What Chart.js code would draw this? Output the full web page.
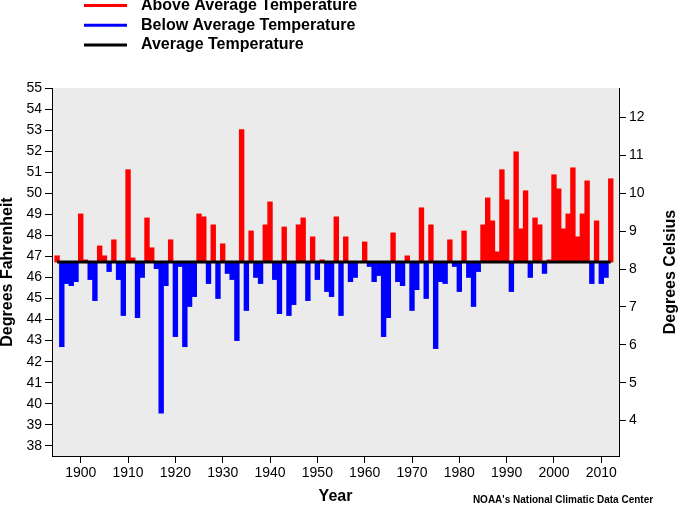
<!DOCTYPE html>
<html>
<head>
<meta charset="utf-8">
<script src="https://cdn.jsdelivr.net/npm/chart.js@4"></script>
<style>
  html, body { margin: 0; padding: 0; background: #fff; }
  canvas { display: block; }
</style>
</head>
<body>
<canvas id="tempChart" width="680" height="505"></canvas>
<script>
// annual mean temperature (deg F), 1895 - 2012
var firstYear = 1895;
var temps = [
  47.03, 42.71, 45.71, 45.61, 45.80, 49.02, 46.84, 45.90, 44.90, 47.50,
  47.03, 46.28, 47.79, 45.90, 44.19, 51.12, 46.93, 44.09, 46.00, 48.83,
  47.41, 46.42, 39.55, 45.61, 47.79, 43.19, 46.52, 42.71, 44.62, 45.09,
  49.02, 48.88, 45.71, 48.50, 45.00, 47.60, 46.19, 45.90, 43.00, 53.02,
  44.43, 48.21, 46.00, 45.71, 48.50, 49.59, 45.90, 44.28, 48.40, 44.19,
  44.71, 48.50, 48.83, 44.90, 47.93, 45.90, 46.84, 45.33, 45.09, 48.88,
  44.19, 47.93, 45.80, 46.00, 46.73, 47.69, 46.52, 45.80, 46.09, 43.19,
  44.09, 48.12, 45.80, 45.61, 47.03, 44.43, 45.42, 49.31, 45.00, 48.50,
  42.62, 45.80, 45.71, 47.79, 46.52, 45.33, 48.21, 46.00, 44.62, 46.28,
  48.50, 49.78, 48.69, 47.22, 51.12, 49.69, 45.33, 51.97, 48.31, 50.12,
  46.00, 48.83, 48.50, 46.19, 46.84, 50.88, 50.21, 48.31, 49.02, 51.21,
  47.93, 49.02, 50.59, 45.71, 48.69, 45.71, 46.00, 50.69
];
var years = [];
for (var i = 0; i < temps.length; i++) {
    years.push(firstYear + i);
}
var averageTemp = 46.73;

var yearTicks = [1900, 1910, 1920, 1930, 1940, 1950, 1960, 1970, 1980, 1990, 2000, 2010];
var fahrenheitTicks = [38, 39, 40, 41, 42, 43, 44, 45, 46, 47, 48, 49, 50, 51, 52, 53, 54, 55];
var celsiusTicks = [4, 5, 6, 7, 8, 9, 10, 11, 12];
var legendNames = ["Above Average Temperature", "Below Average Temperature", "Average Temperature"];
var creditText = "NOAA's National Climatic Data Center";

var fMin = 37.52, fMax = 55;
var xMin = 1893.93, xMax = 2013.74;
var fontName = "'Liberation Sans', Arial, Helvetica, sans-serif";

function toCelsius(f) {
    return (f - 32) * 5 / 9;
}

// split into above / below average floating bars
var aboveData = [];
var belowData = [];
years.forEach((y, i) => {
    var t = temps[i];
    if (t >= averageTemp) {
        aboveData.push({ x: y, y: [averageTemp, t] });
    } else {
        belowData.push({ x: y, y: [averageTemp, t] });
    }
})

//grey plot area
var plotBackground = {
    id: 'plotBackground',
    beforeDraw: function (chart) {
        var a = chart.chartArea;
        var ctx = chart.ctx;
        ctx.save();
        ctx.fillStyle = '#ebebeb';
        ctx.fillRect(a.left, a.top, a.right - a.left, a.bottom - a.top);
        ctx.restore();
    }
};

//legend, right axis title and credit line
var extras = {
    id: 'extras',
    afterDraw: function (chart) {
        var ctx = chart.ctx;
        ctx.save();
        var rows = [5.5, 25.3, 45];
        chart.data.datasets.forEach((ds, i) => {
            ctx.strokeStyle = ds.borderColor || ds.backgroundColor;
            ctx.lineWidth = 3;
            ctx.beginPath();
            ctx.moveTo(84, rows[i]);
            ctx.lineTo(127, rows[i]);
            ctx.stroke();
            ctx.fillStyle = '#000';
            ctx.font = 'bold 16px ' + fontName;
            ctx.textAlign = 'left';
            ctx.textBaseline = 'middle';
            ctx.fillText(ds.label, 141, rows[i]);
        })

        var r = chart.scales.y2;
        ctx.translate(r.right - 9, (chart.chartArea.top + chart.chartArea.bottom) / 2);
        ctx.rotate(-Math.PI / 2);
        ctx.textAlign = 'center';
        ctx.textBaseline = 'middle';
        ctx.font = 'bold 16px ' + fontName;
        ctx.fillText('Degrees Celsius', 0, 0);
        ctx.restore();

        ctx.save();
        ctx.fillStyle = '#000';
        ctx.font = 'bold 10px ' + fontName;
        ctx.textAlign = 'center';
        ctx.textBaseline = 'middle';
        ctx.fillText(creditText, 563, 500);
        ctx.restore();
    }
};

var tickFont = { family: fontName, size: 14 };
var titleFont = { family: fontName, size: 16, weight: 'bold', lineHeight: 1 };

var myChart = new Chart(document.getElementById('tempChart'), {
    type: 'bar',
    data: {
        datasets: [{
            label: legendNames[0],
            data: aboveData,
            backgroundColor: '#ff0000',
            borderColor: '#ff0000',
            borderWidth: 0,
            grouped: false,
            barPercentage: 1,
            categoryPercentage: 1,
            yAxisID: 'y',
            order: 1
        }, {
            label: legendNames[1],
            data: belowData,
            backgroundColor: '#0000ff',
            borderColor: '#0000ff',
            borderWidth: 0,
            grouped: false,
            barPercentage: 1,
            categoryPercentage: 1,
            yAxisID: 'y',
            order: 1
        }, {
            type: 'line',
            label: legendNames[2],
            data: [{ x: years[0], y: averageTemp }, { x: years[years.length - 1], y: averageTemp }],
            borderColor: '#000000',
            borderWidth: 3,
            pointRadius: 0,
            yAxisID: 'y',
            order: 0
        }]
    },
    options: {
        responsive: false,
        animation: false,
        devicePixelRatio: 1,
        layout: { padding: { top: 88, left: 0, right: 0, bottom: 0 } },
        plugins: {
            legend: { display: false },
            tooltip: { enabled: false }
        },
        scales: {
            x: {
                type: 'linear',
                min: xMin,
                max: xMax,
                offset: false,
                afterBuildTicks: function (s) { s.ticks = yearTicks.map(v => ({ value: v })); },
                afterFit: function (s) { s.height = 49; },
                ticks: {
                    color: '#000', font: tickFont, padding: 2, maxRotation: 0, autoSkip: false,
                    callback: function (v) { return String(v); }
                },
                grid: { offset: false, drawOnChartArea: false, tickLength: 7, tickColor: '#000', tickWidth: 1 },
                border: { color: '#000', width: 1 },
                title: { display: true, text: 'Year', color: '#000', font: titleFont, padding: 0 }
            },
            y: {
                position: 'left',
                min: fMin,
                max: fMax,
                afterBuildTicks: function (s) { s.ticks = fahrenheitTicks.map(v => ({ value: v })); },
                afterFit: function (s) { s.width = 52; },
                ticks: { color: '#000', font: tickFont, padding: 3, autoSkip: false },
                grid: { drawOnChartArea: false, tickLength: 7, tickColor: '#000', tickWidth: 1 },
                border: { color: '#000', width: 1 },
                title: { display: true, text: 'Degrees Fahrenheit', color: '#000', font: titleFont, padding: 0 }
            },
            y2: {
                position: 'right',
                min: toCelsius(fMin),
                max: toCelsius(fMax),
                afterBuildTicks: function (s) { s.ticks = celsiusTicks.map(v => ({ value: v })); },
                afterFit: function (s) { s.width = 61; },
                ticks: { color: '#000', font: tickFont, padding: 3, autoSkip: false },
                grid: { drawOnChartArea: false, tickLength: 7, tickColor: '#000', tickWidth: 1 },
                border: { color: '#000', width: 1 }
            }
        }
    },
    plugins: [plotBackground, extras]
})
</script>
</body>
</html>
